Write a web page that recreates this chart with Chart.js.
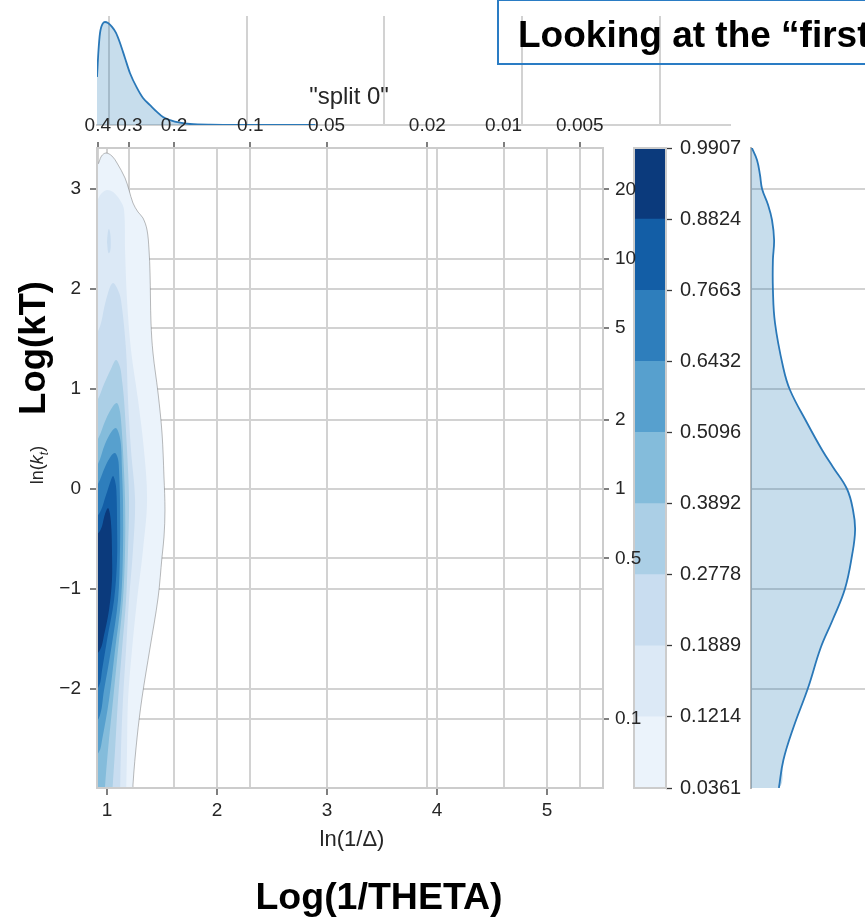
<!DOCTYPE html>
<html><head><meta charset="utf-8">
<script src="https://cdn.jsdelivr.net/npm/chart.js"></script>
<style>
html,body{margin:0;padding:0;background:#fff;width:865px;height:919px;overflow:hidden;position:relative;font-family:"Liberation Sans",Arial,Helvetica,sans-serif;}
canvas{position:absolute;}
.t{position:absolute;white-space:nowrap;color:#262626;line-height:1;z-index:5;}
.c{transform:translate(-50%,-50%);}
.r{transform:translate(-50%,-50%) rotate(-90deg);}
#tbox{position:absolute;left:497px;top:-1px;width:430px;height:66px;border:2px solid #2a7cc4;box-sizing:border-box;z-index:6;}
#ttext{position:absolute;left:518px;top:16px;font-size:37px;font-weight:bold;color:#000;line-height:37px;white-space:nowrap;z-index:7;}
</style></head><body>
<canvas id="topm" width="865" height="150" style="left:0;top:0;z-index:1"></canvas>
<canvas id="rightm" width="124" height="700" style="left:741px;top:118px;z-index:1"></canvas>
<canvas id="cbar" width="251" height="700" style="left:614px;top:118px;z-index:2"></canvas>
<canvas id="main" width="865" height="919" style="left:0;top:0;z-index:3"></canvas>
<div id="tbox"></div>
<div id="ttext">Looking at the “first</div>
<div class="t c" style="left:349px;top:96px;font-size:24px;">"split 0"</div>
<div class="t c" style="left:352px;top:839px;font-size:22px;">ln(1/Δ)</div>
<div class="t r" style="left:39px;top:465px;font-size:18px;">ln(<i>k</i><sub style="font-size:12px;font-style:italic;">t</sub>)</div>
<div class="t r" style="left:33px;top:348px;font-size:36.5px;font-weight:bold;color:#000;">Log(kT)</div>
<div class="t c" style="left:379px;top:897px;font-size:37.5px;font-weight:bold;color:#000;">Log(1/THETA)</div>
<script>
// ---------- data ----------
const xTicks = [1, 2, 3, 4, 5];
const yTicks = [-2, -1, 0, 1, 2, 3];
const deltaTicks = [0.4, 0.3, 0.2, 0.1, 0.05, 0.02, 0.01, 0.005];
const ktTicks = [0.1, 0.5, 1, 2, 5, 10, 20];
const contourLevels = [0.0361, 0.1214, 0.1889, 0.2778, 0.3892, 0.5096, 0.6432, 0.7663, 0.8824, 0.9907];
const bandColors = ['#ebf3fb', '#dce9f6', '#c9ddf0', '#abcfe6', '#84bcdb', '#57a0ce', '#2e7ebc', '#135ea6', '#0b3a7c'];

// contour outlines [ln(1/Δ), ln(kt)] for each filled level (lowest first)
const contour1 = [[0.845,3.25],[0.91,3.24],[0.95,3.33],[0.991,3.36],[1.045,3.33],[1.091,3.26],[1.164,3.11],[1.2,2.99],[1.236,2.86],[1.282,2.77],[1.327,2.71],[1.364,2.59],[1.382,2.39],[1.391,2.16],[1.4,1.66],[1.418,1.36],[1.464,0.96],[1.5,0.56],[1.518,0.12],[1.527,-0.21],[1.518,-0.48],[1.5,-0.68],[1.464,-1.09],[1.391,-1.59],[1.318,-2.09],[1.273,-2.49],[1.236,-2.96],[1.22,-3.4],[0.845,-3.4],[0.845,3.25]];
const contour2 = [[0.845,2.7],[0.927,2.92],[0.964,2.97],[1.0,2.99],[1.055,2.97],[1.118,2.89],[1.155,2.79],[1.164,2.39],[1.182,1.89],[1.218,1.39],[1.282,0.89],[1.336,0.39],[1.364,-0.11],[1.327,-0.61],[1.273,-1.11],[1.227,-1.61],[1.191,-2.11],[1.182,-2.61],[1.173,-3.11],[1.17,-3.4],[0.845,-3.4],[0.845,2.7]];
const contour3island = [[1.0,2.47],[1.008,2.57],[1.018,2.6],[1.03,2.55],[1.034,2.45],[1.027,2.37],[1.012,2.36],[1.0,2.47]];
const contour3 = [[0.845,1.5],[0.927,1.6],[0.982,1.85],[1.027,2.02],[1.055,2.06],[1.091,2.01],[1.127,1.89],[1.173,1.39],[1.191,0.89],[1.218,0.39],[1.255,-0.11],[1.236,-0.61],[1.2,-1.11],[1.173,-1.61],[1.145,-2.11],[1.127,-2.61],[1.118,-3.11],[1.115,-3.4],[0.845,-3.4],[0.845,1.5]];
const contour4 = [[0.845,0.8],[0.918,0.9],[0.973,1.05],[1.036,1.2],[1.082,1.29],[1.118,1.22],[1.136,1.09],[1.155,0.89],[1.182,0.39],[1.2,-0.11],[1.191,-0.61],[1.173,-1.11],[1.136,-1.61],[1.1,-2.11],[1.073,-2.61],[1.045,-3.11],[1.04,-3.4],[0.845,-3.4],[0.845,0.8]];
const contour5 = [[0.845,0.4],[0.918,0.5],[0.991,0.7],[1.055,0.83],[1.091,0.86],[1.113,0.8],[1.127,0.69],[1.145,0.39],[1.164,-0.11],[1.164,-0.61],[1.145,-1.11],[1.1,-1.61],[1.055,-2.11],[1.009,-2.61],[0.973,-3.11],[0.96,-3.4],[0.845,-3.4],[0.845,0.4]];
const contour6 = [[0.845,0.15],[0.918,0.25],[0.982,0.45],[1.045,0.58],[1.082,0.61],[1.109,0.55],[1.127,0.44],[1.136,0.19],[1.145,-0.11],[1.145,-0.61],[1.127,-1.11],[1.073,-1.61],[1.018,-2.11],[0.955,-2.51],[0.927,-2.63],[0.845,-2.7],[0.845,0.15]];
const contour7 = [[0.845,-0.05],[0.918,0.05],[0.982,0.22],[1.036,0.33],[1.073,0.36],[1.1,0.3],[1.109,0.19],[1.118,-0.11],[1.118,-0.61],[1.1,-1.11],[1.036,-1.61],[0.973,-2.01],[0.927,-2.29],[0.845,-2.35],[0.845,-0.05]];
const contour8 = [[0.845,-0.3],[0.927,-0.25],[0.991,-0.06],[1.036,0.09],[1.055,0.13],[1.073,0.08],[1.085,-0.01],[1.091,-0.31],[1.091,-0.71],[1.064,-1.11],[1.0,-1.51],[0.955,-1.81],[0.927,-1.97],[0.845,-2.05],[0.845,-0.3]];
const contour9 = [[0.845,-0.5],[0.936,-0.42],[0.982,-0.25],[1.009,-0.19],[1.027,-0.25],[1.04,-0.4],[1.045,-0.61],[1.045,-0.91],[1.018,-1.21],[0.973,-1.46],[0.936,-1.61],[0.845,-1.7],[0.845,-0.5]];

// top marginal: density of ln(1/Δ)
const topMargX = [0.915,0.926,0.937,0.959,0.973,0.995,1.024,1.053,1.082,1.118,1.154,1.205,1.249,1.300,1.350,1.394,1.445,1.517,1.590,1.735,2.025,2.5];
const topMargDensity = [1.76,2.75,3.38,3.74,3.78,3.74,3.60,3.38,3.01,2.46,1.91,1.36,0.99,0.73,0.48,0.29,0.18,0.084,0.037,0.011,0.003,0];

// right marginal: density of ln(kt)
const rightMargY = [3.41,3.29,3.14,3.0,2.84,2.69,2.49,2.29,2.0,1.66,1.22,0.99,0.66,0.39,0.22,0,-0.21,-0.41,-0.66,-1.0,-1.31,-1.59,-1.99,-2.38,-2.71,-2.99];
const rightMargDensity = [0.003,0.02,0.03,0.037,0.057,0.07,0.077,0.073,0.073,0.08,0.107,0.13,0.187,0.237,0.273,0.32,0.34,0.347,0.337,0.313,0.272,0.232,0.19,0.142,0.108,0.093];

// axis ranges
const X_MIN = 0.909, X_MAX = 5.509;
const Y_MIN = -2.99, Y_MAX = 3.41;

// ---------- drawing ----------
const F = '"Liberation Sans", Arial, Helvetica, sans-serif';
Chart.defaults.font.family = F;
const GRID = '#d2d2d2';
const TICKC = '#3a3a3a';
const LABC = '#262626';
const tickFont = {family: F, size: 19};
const minus = v => String(v).replace('-', '\u2212');

const frame = {
  id: 'frame',
  afterDraw(chart, args, opts) {
    const a = chart.chartArea, ctx = chart.ctx;
    ctx.save();
    ctx.strokeStyle = opts.color || '#cccccc';
    ctx.lineWidth = opts.width || 2;
    ctx.strokeRect(a.left, a.top, a.right - a.left, a.bottom - a.top);
    ctx.restore();
  }
};

const common = {responsive: false, animation: false, events: [], devicePixelRatio: 1};

// main contour plot
const contours = [contour1, contour2, contour3, contour4, contour5, contour6, contour7, contour8, contour9];
const mainSets = contours.map((c, i) => ({
  data: c.map(p => ({x: p[0], y: p[1]})),
  fill: 'shape',
  backgroundColor: bandColors[i],
  borderColor: i === 0 ? 'rgba(110,110,110,0.6)' : 'rgba(0,0,0,0)',
  borderWidth: i === 0 ? 0.8 : 0,
  pointRadius: 0,
  tension: 0.35,
  order: 30 - i * 2,
  xAxisID: 'x', yAxisID: 'y'
}));
mainSets.push({
  data: contour3island.map(p => ({x: p[0], y: p[1]})),
  fill: 'shape', backgroundColor: bandColors[2], borderColor: 'rgba(0,0,0,0)', borderWidth: 0,
  pointRadius: 0, tension: 0.4, order: 25, xAxisID: 'x', yAxisID: 'y'
});

new Chart(document.getElementById('main'), {
  type: 'line',
  data: {datasets: mainSets},
  options: Object.assign({}, common, {
    layout: {padding: 0},
    plugins: {legend: {display: false}, tooltip: {enabled: false}, frame: {color: '#cccccc', width: 2}},
    scales: {
      x: {
        type: 'linear', position: 'bottom', min: X_MIN, max: X_MAX,
        afterBuildTicks: s => { s.ticks = xTicks.map(v => ({value: v})); },
        afterFit: s => { s.height = 131; },
        grid: {color: GRID, lineWidth: 2, tickLength: 7, tickColor: TICKC, tickWidth: 1.3},
        border: {display: false},
        ticks: {font: tickFont, color: LABC, padding: 4, autoSkip: false, maxRotation: 0, callback: v => minus(v)}
      },
      x2: {
        type: 'linear', position: 'top', min: X_MIN, max: X_MAX, z: 1,
        afterBuildTicks: s => { s.ticks = deltaTicks.map(d => ({value: Math.log(1 / d)})); },
        afterFit: s => { s.height = 148; },
        grid: {color: GRID, lineWidth: 2, tickLength: 6, tickColor: TICKC, tickWidth: 1.3},
        border: {display: false},
        ticks: {font: tickFont, color: LABC, padding: 5, autoSkip: false, maxRotation: 0,
                callback: (v, i) => String(deltaTicks[i])}
      },
      y: {
        type: 'linear', position: 'left', min: Y_MIN, max: Y_MAX,
        afterBuildTicks: s => { s.ticks = yTicks.map(v => ({value: v})); },
        afterFit: s => { s.width = 97; },
        grid: {color: GRID, lineWidth: 2, tickLength: 7, tickColor: TICKC, tickWidth: 1.3},
        border: {display: false},
        ticks: {font: tickFont, color: LABC, padding: 9, autoSkip: false, callback: v => minus(v)}
      },
      y2: {
        type: 'linear', position: 'right', min: Y_MIN, max: Y_MAX, z: 1,
        afterBuildTicks: s => { s.ticks = ktTicks.map(k => ({value: Math.log(k)})); },
        afterFit: s => { s.width = 262; },
        grid: {color: GRID, lineWidth: 2, tickLength: 6, tickColor: TICKC, tickWidth: 1.3},
        border: {display: false},
        ticks: {font: tickFont, color: LABC, padding: 6, autoSkip: false,
                callback: (v, i) => String(ktTicks[i])}
      }
    }
  }),
  plugins: [frame]
});

// top marginal
new Chart(document.getElementById('topm'), {
  type: 'line',
  data: {datasets: [{
    data: topMargX.map((x, i) => ({x: x, y: topMargDensity[i]})),
    fill: 'origin', backgroundColor: 'rgba(31,119,180,0.25)', borderColor: '#2a78b8', borderWidth: 1.8,
    pointRadius: 0, cubicInterpolationMode: 'monotone'
  }]},
  options: Object.assign({}, common, {
    layout: {padding: {left: 97, right: 135, top: 16, bottom: 25}},
    plugins: {legend: {display: false}, tooltip: {enabled: false}},
    scales: {
      x: {type: 'linear', min: 0.915, max: X_MAX,
          afterBuildTicks: s => { s.ticks = xTicks.map(v => ({value: v})); },
          afterFit: s => { s.height = 0; },
          ticks: {display: false},
          grid: {color: GRID, lineWidth: 2, drawTicks: false},
          border: {display: true, color: GRID, width: 2}},
      y: {display: false, min: 0, max: 4}
    }
  })
});

// right marginal
const rightCurve = rightMargY.map((y, i) => ({x: rightMargDensity[i], y: y}));
const rightFill = [{x: 0, y: rightMargY[0]}].concat(rightCurve, [{x: 0, y: rightMargY[rightMargY.length - 1]}]);
new Chart(document.getElementById('rightm'), {
  type: 'line',
  data: {datasets: [
    {data: rightCurve, fill: false, borderColor: '#2a78b8', borderWidth: 1.8, pointRadius: 0, tension: 0.4, order: 1},
    {data: rightFill, fill: 'shape', backgroundColor: 'rgba(31,119,180,0.25)', borderColor: 'rgba(0,0,0,0)', borderWidth: 0, pointRadius: 0, tension: 0.4, order: 2}
  ]},
  options: Object.assign({}, common, {
    layout: {padding: {left: 0, right: 0, top: 30, bottom: 30}},
    plugins: {legend: {display: false}, tooltip: {enabled: false}},
    scales: {
      x: {type: 'linear', display: false, min: 0, max: 0.38},
      y: {type: 'linear', min: Y_MIN, max: Y_MAX,
          afterBuildTicks: s => { s.ticks = yTicks.map(v => ({value: v})); },
          afterFit: s => { s.width = 10; },
          ticks: {display: false},
          grid: {color: GRID, lineWidth: 2, drawTicks: false},
          border: {display: true, color: '#b8b8b8', width: 2}}
    }
  })
});

// colorbar
new Chart(document.getElementById('cbar'), {
  type: 'bar',
  data: {labels: [''], datasets: bandColors.map(c => ({
    data: [1], backgroundColor: c, borderWidth: 0, barPercentage: 1, categoryPercentage: 1, stack: 'cb'
  }))},
  options: Object.assign({}, common, {
    layout: {padding: {left: 20, right: 0, top: 30, bottom: 30}},
    plugins: {legend: {display: false}, tooltip: {enabled: false}, frame: {color: '#cccccc', width: 2}},
    scales: {
      x: {display: false, stacked: true},
      y: {position: 'right', stacked: true, min: 0, max: contourLevels.length - 1,
          afterBuildTicks: s => { s.ticks = contourLevels.map((v, i) => ({value: i})); },
          afterFit: s => { s.width = 199; },
          grid: {display: true, drawOnChartArea: false, drawTicks: true, tickLength: 6, tickColor: TICKC, tickWidth: 1.3},
          border: {display: false},
          ticks: {font: {family: F, size: 20}, color: LABC, padding: 8, autoSkip: false,
                  callback: (v, i) => contourLevels[i].toFixed(4)}}
    }
  }),
  plugins: [frame]
});
</script>
</body></html>
